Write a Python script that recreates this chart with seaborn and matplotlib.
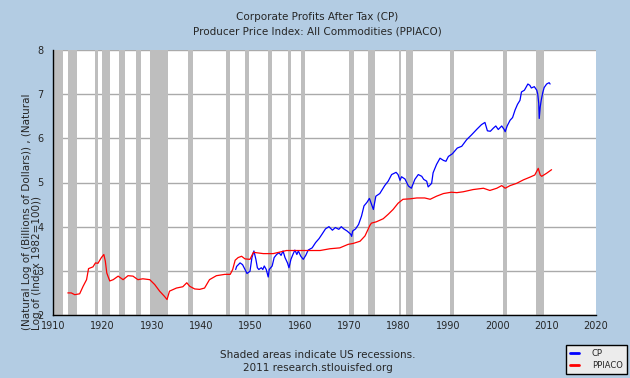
import numpy as np
import pandas as pd
import matplotlib
matplotlib.use("Agg")
import matplotlib.pyplot as plt
import seaborn as sns

# ---------------- data ----------------
title_lines = ["Corporate Profits After Tax (CP)",
               "Producer Price Index: All Commodities (PPIACO)"]
ylabel_text = "(Natural Log of (Billions of Dollars)) , (Natural\nLog of (Index 1982=100))"
footer_lines = ["Shaded areas indicate US recessions.",
                "2011 research.stlouisfed.org"]
series_names = ["CP", "PPIACO"]

x_ticks = [1910, 1920, 1930, 1940, 1950, 1960, 1970, 1980, 1990, 2000, 2010, 2020]
y_ticks = [2, 3, 4, 5, 6, 7, 8]

ppi_years = [1913.0, 1913.7, 1914.4, 1915.4, 1916.1, 1916.8, 1917.2, 1918.1, 1918.6, 1919.1,
             1919.8, 1920.3, 1920.6, 1920.9, 1921.5, 1922.2, 1923.2, 1924.2, 1925.2, 1926.2,
             1927.2, 1928.2, 1929.6, 1930.6, 1931.6, 1932.6, 1933.1, 1933.6, 1935.0, 1936.3,
             1937.1, 1937.7, 1938.7, 1939.7, 1940.7, 1941.7, 1943.1, 1944.8, 1945.9, 1946.4,
             1946.9, 1947.5, 1948.2, 1948.9, 1949.9, 1950.6, 1951.2, 1952.6, 1954.6, 1957.3,
             1960.7, 1964.1, 1966.1, 1968.1, 1969.8, 1970.8, 1972.2, 1973.2, 1974.2, 1974.5,
             1975.5, 1976.9, 1977.9, 1978.9, 1979.9, 1980.9, 1982.3, 1983.7, 1985.3, 1986.4,
             1987.7, 1989.1, 1990.7, 1991.8, 1993.1, 1995.1, 1997.2, 1998.5, 1999.9, 2000.9,
             2001.6, 2002.6, 2003.9, 2005.3, 2006.6, 2007.6, 2008.3, 2008.7, 2009.0, 2010.0,
             2011.0]
ppi_values = [2.50, 2.50, 2.46, 2.48, 2.65, 2.80, 3.05, 3.09, 3.18, 3.17,
              3.30, 3.37, 3.22, 2.95, 2.77, 2.80, 2.88, 2.80, 2.89, 2.88,
              2.80, 2.82, 2.80, 2.69, 2.54, 2.42, 2.35, 2.54, 2.61, 2.64,
              2.73, 2.65, 2.59, 2.58, 2.61, 2.80, 2.89, 2.92, 2.92, 3.03,
              3.24, 3.30, 3.33, 3.27, 3.26, 3.42, 3.41, 3.39, 3.39, 3.46,
              3.46, 3.46, 3.50, 3.52, 3.60, 3.62, 3.67, 3.79, 4.03, 4.08,
              4.11, 4.18, 4.28, 4.39, 4.53, 4.62, 4.63, 4.65, 4.65, 4.62,
              4.69, 4.75, 4.78, 4.77, 4.79, 4.84, 4.87, 4.82, 4.87, 4.93,
              4.87, 4.93, 4.98, 5.06, 5.12, 5.17, 5.32, 5.17, 5.14, 5.21,
              5.29]

cp_years = [1947.0, 1947.2, 1947.9, 1948.4, 1948.9, 1949.3, 1949.9, 1950.3, 1950.7, 1951.1,
            1951.4, 1951.7, 1952.2, 1952.5, 1952.8, 1953.2, 1953.6, 1953.8, 1954.4, 1954.8,
            1955.3, 1955.8, 1956.2, 1956.6, 1957.0, 1957.5, 1957.8, 1958.2, 1958.6, 1959.0,
            1959.4, 1959.7, 1960.2, 1960.7, 1961.2, 1961.7, 1962.5, 1963.2, 1963.9, 1964.5,
            1965.2, 1965.9, 1966.6, 1967.2, 1967.9, 1968.4, 1968.9, 1969.6, 1970.3, 1970.5,
            1970.7, 1971.3, 1971.9, 1972.5, 1973.0, 1973.6, 1974.1, 1974.9, 1975.4, 1976.2,
            1977.2, 1977.9, 1978.6, 1979.5, 1979.9, 1980.3, 1980.6, 1981.3, 1982.0, 1982.6,
            1983.3, 1984.0, 1984.7, 1985.1, 1985.7, 1986.0, 1986.7, 1987.0, 1987.7, 1988.4,
            1989.1, 1989.6, 1990.1, 1990.9, 1991.9, 1992.8, 1993.8, 1994.8, 1995.9, 1996.8,
            1997.5, 1998.0, 1998.6, 1999.2, 1999.7, 2000.2, 2000.9, 2001.4, 2001.6, 2002.0,
            2002.6, 2003.1, 2003.6, 2004.1, 2004.6, 2004.9, 2005.5, 2006.2, 2006.6, 2006.9,
            2007.5, 2008.0, 2008.2, 2008.4, 2008.5, 2008.7, 2008.9, 2009.2, 2009.5, 2010.0,
            2010.5, 2010.7]
cp_values = [3.03, 3.10, 3.18, 3.14, 3.03, 2.94, 2.99, 3.30, 3.45, 3.26,
             3.07, 3.03, 3.07, 3.03, 3.11, 3.03, 2.86, 3.03, 3.11, 3.30,
             3.37, 3.41, 3.35, 3.45, 3.30, 3.18, 3.07, 3.26, 3.37, 3.47,
             3.37, 3.45, 3.33, 3.26, 3.35, 3.47, 3.52, 3.64, 3.73, 3.83,
             3.95, 4.00, 3.92, 3.98, 3.94, 4.00, 3.95, 3.90, 3.83, 3.78,
             3.90, 3.95, 4.05, 4.24, 4.47, 4.55, 4.64, 4.39, 4.69, 4.75,
             4.93, 5.03, 5.18, 5.23, 5.18, 5.05, 5.13, 5.08, 4.92, 4.87,
             5.07, 5.18, 5.14, 5.07, 5.03, 4.90, 4.98, 5.22, 5.41, 5.55,
             5.50, 5.48, 5.59, 5.65, 5.78, 5.82, 5.97, 6.08, 6.21, 6.31,
             6.36, 6.17, 6.16, 6.23, 6.28, 6.20, 6.28, 6.20, 6.15, 6.28,
             6.41, 6.47, 6.64, 6.77, 6.86, 7.05, 7.09, 7.23, 7.20, 7.14,
             7.17, 7.09, 7.00, 6.79, 6.45, 6.71, 6.86, 7.03, 7.15, 7.23,
             7.26, 7.23]

recession_starts = [1910.0, 1913.0, 1918.6, 1920.0, 1923.35, 1926.8, 1929.6, 1937.35, 1945.1,
                    1948.85, 1953.5, 1957.6, 1960.3, 1969.9, 1973.85, 1980.0, 1981.5, 1990.5,
                    2001.2, 2007.9]
recession_ends = [1912.0, 1914.95, 1919.2, 1921.55, 1924.55, 1927.85, 1933.2, 1938.45, 1945.8,
                  1949.8, 1954.4, 1958.3, 1961.1, 1970.9, 1975.2, 1980.55, 1982.9, 1991.2,
                  2001.9, 2009.5]

# ---------------- styling ----------------
BG = "#B3CCE3"
sns.set_style("white")
plt.rcParams["font.family"] = ["DejaVu Sans"]

fig = plt.figure(figsize=(6.3, 3.78), dpi=100)
fig.patch.set_facecolor(BG)
ax = fig.add_axes([53 / 630, 63 / 378, 543 / 630, 265 / 378])
ax.set_facecolor("white")

for s, e in zip(recession_starts, recession_ends):
    ax.axvspan(s, e, color="#BEBEBE", lw=0, zorder=1)

for yv in y_ticks:
    ax.axhline(yv, color="#AAAAAA", lw=1.0, zorder=0.5)

cp_df = pd.DataFrame({"year": cp_years, "value": cp_values})
ppi_df = pd.DataFrame({"year": ppi_years, "value": ppi_values})
sns.lineplot(data=cp_df, x="year", y="value", ax=ax, color="#0000FF", lw=0.9,
             label=series_names[0], zorder=3)
sns.lineplot(data=ppi_df, x="year", y="value", ax=ax, color="#FF0000", lw=0.9,
             label=series_names[1], zorder=3)

ax.set_xlim(1910, 2020)
ax.set_ylim(2, 8)
ax.set_xticks(x_ticks)
ax.set_yticks(y_ticks)
ax.set_xticklabels([str(t) for t in x_ticks], fontsize=7)
ax.set_yticklabels([str(t) for t in y_ticks], fontsize=7)
ax.tick_params(axis="x", direction="in", length=5, width=1, pad=4, color="black")
ax.tick_params(axis="y", direction="out", length=5, width=1, pad=2, color="black")
ax.set_xlabel("")
ax.set_ylabel("")
for side in ["top", "right"]:
    ax.spines[side].set_visible(False)
for side in ["left", "bottom"]:
    ax.spines[side].set_color("black")
    ax.spines[side].set_linewidth(1.0)

fig.text(22 / 630, 1 - 330 / 378, ylabel_text, rotation=90, ha="left", va="bottom",
         fontsize=7.5, multialignment="left", linespacing=1.0)

fig.text(0.503, 1 - 17 / 378, title_lines[0], ha="center", va="center", fontsize=7.5)
fig.text(0.503, 1 - 31 / 378, title_lines[1], ha="center", va="center", fontsize=7.5)
fig.text(0.505, 1 - 355 / 378, footer_lines[0], ha="center", va="center", fontsize=7.5)
fig.text(0.505, 1 - 368 / 378, footer_lines[1], ha="center", va="center", fontsize=7.5)

leg = ax.legend(loc="lower right", bbox_to_anchor=(627 / 630, 4 / 378),
                bbox_transform=fig.transFigure, fontsize=6, frameon=True,
                fancybox=False, borderpad=0.5, handlelength=1.0, handletextpad=1.6,
                labelspacing=0.3, borderaxespad=0)
leg.get_frame().set_edgecolor("black")
leg.get_frame().set_facecolor("#ECECEC")
leg.get_frame().set_linewidth(1.0)
leg.get_frame().set_alpha(1)
for line in leg.get_lines():
    line.set_linewidth(2)

fig.savefig("out.png", dpi=100, facecolor=BG, edgecolor="black")
